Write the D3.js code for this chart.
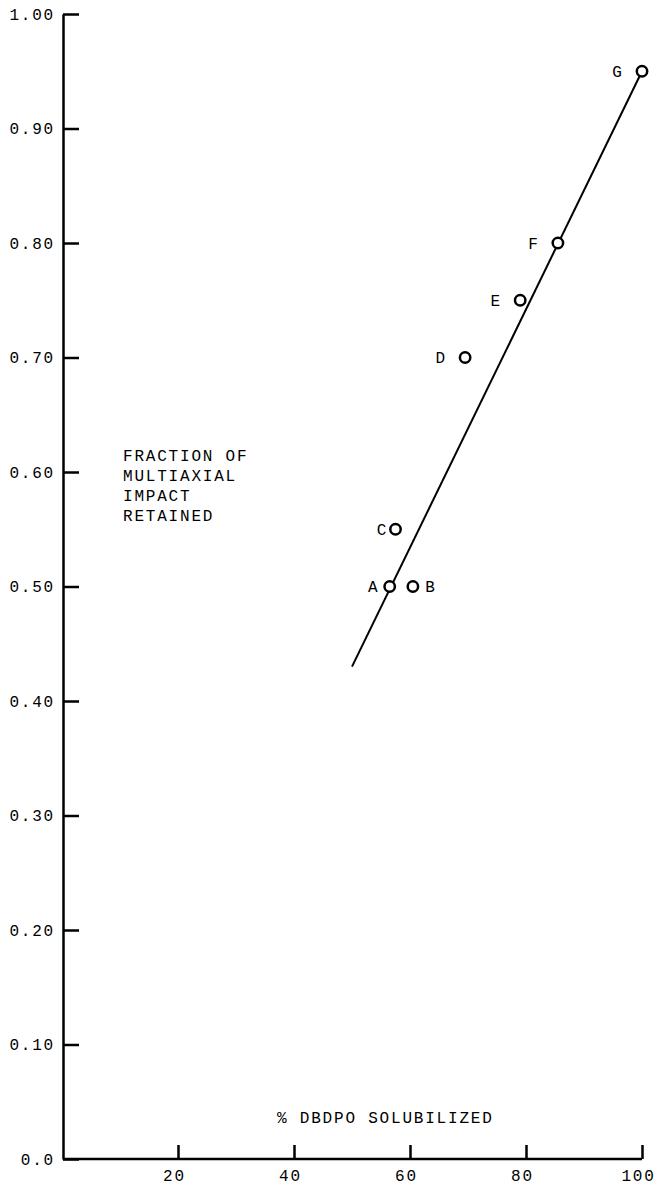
<html>
<head>
<style>
  body { margin: 0; background: #fff; }
  text { font-family: "Liberation Mono", "DejaVu Sans Mono", monospace; font-size: 16px; fill: #000; letter-spacing: 1.8px; }
  .axis path, .axis line { stroke: #000; stroke-width: 2.5; }
</style>
</head>
<body>
<svg id="container" width="659" height="1186"></svg>
<script src="https://cdn.jsdelivr.net/npm/d3@7/dist/d3.min.js"></script>
<script>
// samples A..G
const pointNames = ["A", "B", "C", "D", "E", "F", "G"]
const solubilized = [56.5, 60.5, 57.5, 69.5, 79, 85.5, 100]
const fractionRetained = [0.50, 0.50, 0.55, 0.70, 0.75, 0.80, 0.95]
// label side for each point: -1 left, 1 right
const labelSide = [-1, 1, -1, -1, -1, -1, -1]

// fitted line end points
const fitX = [50, 100]
const fitY = [0.43, 0.95]

const xTicks = [20, 40, 60, 80, 100]
const yTicks = [0, 0.1, 0.2, 0.3, 0.4, 0.5, 0.6, 0.7, 0.8, 0.9, 1.0]
const yTickLabels = ["0.0", "0.10", "0.20", "0.30", "0.40", "0.50", "0.60", "0.70", "0.80", "0.90", "1.00"]

const yTitle = ["FRACTION OF", "MULTIAXIAL", "IMPACT", "RETAINED"]
const xTitle = "% DBDPO SOLUBILIZED"

let svg = d3.select("#container")

let x = d3.scaleLinear().domain([0, 100]).range([62, 642])
let y = d3.scaleLinear().domain([0, 1]).range([1159, 14])

// y axis, ticks pointing inward
svg.append("g")
    .attr("class", "axis")
    .attr("transform", "translate(63,0)")
    .call(d3.axisLeft(y)
        .tickValues(yTicks)
        .tickFormat((d, i) => yTickLabels[i])
        .tickSize(-16)
        .tickSizeOuter(0)
        .tickPadding(8))
    .call(g => g.selectAll("text").attr("font-family", null).attr("font-size", null).attr("fill", null))

// x axis, ticks pointing up
let xAxis = svg.append("g")
    .attr("class", "axis")
    .attr("transform", "translate(0,1159)")
    .call(d3.axisBottom(x)
        .tickValues(xTicks)
        .tickSize(-14)
        .tickSizeOuter(0)
        .tickPadding(11))
xAxis.select(".domain").attr("d", "M63,0H" + x(100))
xAxis.selectAll("text").attr("font-family", null).attr("font-size", null).attr("fill", null).attr("dx", -4)

// fitted line
let line = d3.line().x(d => x(d[0])).y(d => y(d[1]))
svg.append("path")
    .attr("d", line(d3.zip(fitX, fitY)))
    .attr("fill", "none")
    .attr("stroke", "#000")
    .attr("stroke-width", 2)

// points
let pts = svg.selectAll(".pt")
    .data(pointNames.map((n, i) => ({ name: n, x: solubilized[i], y: fractionRetained[i], side: labelSide[i] })))
    .enter()
    .append("g")
    .attr("class", "pt")

pts.append("circle")
    .attr("cx", d => x(d.x))
    .attr("cy", d => y(d.y))
    .attr("r", 5.2)
    .attr("fill", "#fff")
    .attr("stroke", "#000")
    .attr("stroke-width", 2.5)

pts.append("text")
    .attr("x", d => x(d.x) + d.side * (d.name == "A" || d.name == "B" ? 17 : (d.name == "C" ? 14 : 25)))
    .attr("y", d => y(d.y))
    .attr("dy", "0.35em")
    .attr("text-anchor", "middle")
    .attr("dx", 1)
    .text(d => d.name)

// axis titles
svg.append("text")
    .attr("x", 123)
    .attr("y", 461)
    .selectAll("tspan")
    .data(yTitle)
    .enter()
    .append("tspan")
    .attr("x", 123)
    .attr("dy", (d, i) => i == 0 ? 0 : 20)
    .text(d => d)

svg.append("text")
    .attr("x", 277)
    .attr("y", 1123)
    .text(xTitle)
</script>
</body>
</html>
